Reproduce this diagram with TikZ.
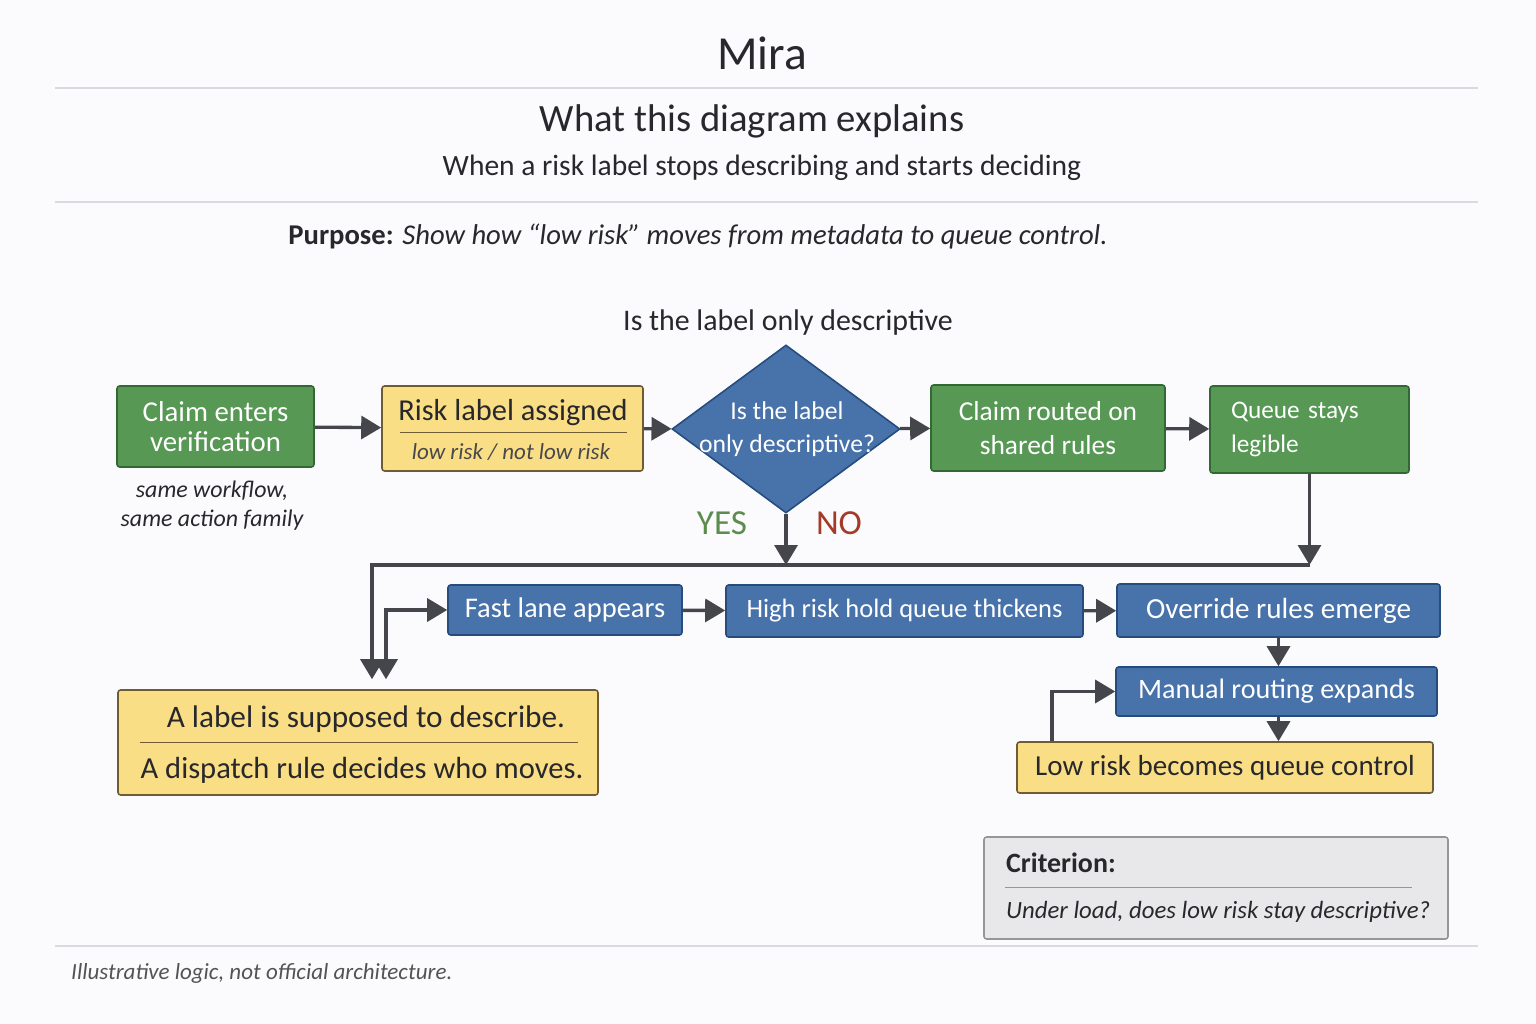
\documentclass[tikz,border=0pt]{standalone}
\usepackage{fontspec}
\setmainfont{Carlito}
\usetikzlibrary{positioning,calc,arrows.meta,shapes.geometric}

\definecolor{bgcol}{RGB}{251,251,253}
\definecolor{inkcol}{RGB}{40,40,44}
\definecolor{rulecol}{RGB}{218,218,222}
\definecolor{arrcol}{RGB}{68,70,76}
\definecolor{grnfill}{RGB}{86,152,84}
\definecolor{grnline}{RGB}{50,104,52}
\definecolor{bluefill}{RGB}{72,114,170}
\definecolor{blueline}{RGB}{38,76,126}
\definecolor{yelfill}{RGB}{249,222,134}
\definecolor{yelline}{RGB}{112,92,50}
\definecolor{grayfill}{RGB}{232,232,234}
\definecolor{grayline}{RGB}{150,150,152}
\definecolor{yescol}{RGB}{92,140,78}
\definecolor{nocol}{RGB}{164,58,40}

\newcommand\titlefont{\fontsize{27}{32}\selectfont}
\newcommand\hdfont{\fontsize{22}{26}\selectfont}
\newcommand\subtfont{\fontsize{16.8}{20}\selectfont}
\newcommand\boxfont{\fontsize{16.2}{19}\selectfont}
\newcommand\notefont{\fontsize{13.6}{16.5}\selectfont}
\newcommand\tinyfont{\fontsize{13.1}{15}\selectfont}

\begin{document}
\begin{tikzpicture}[x=0.02cm,y=-0.02cm,
  every node/.style={text=inkcol},
  box/.style 2 args={minimum width=#1*0.02cm,minimum height=#2*0.02cm,inner sep=0pt,
    rounded corners=1.5pt,line width=0.9pt},
  gbox/.style={draw=grnline,fill=grnfill,text=white,align=center,font=\boxfont},
  bbox/.style={draw=blueline,fill=bluefill,text=white,align=center,font=\boxfont},
  ybox/.style={draw=yelline,fill=yelfill,align=center,font=\boxfont},
  rule/.style={draw=rulecol,line width=0.8pt},
  arr/.style={draw=arrcol,line width=1.9pt,-{Triangle[length=0.4cm,width=0.46cm]}}
  ]
  \fill[bgcol] (0,0) rectangle (1536,1024);

  \node (title) at (762,53) {\titlefont Mira};
  \draw[rule] (55,88) -- (1478,88);
  \node (head) at (752,121) {\hdfont What this diagram explains};
  \node (sub) at (762,168) {\subtfont When a risk label stops describing and starts deciding};
  \draw[rule] (55,202) -- (1478,202);
  \node (purp) at (698,237) {\fontsize{16.3}{19}\selectfont\textbf{Purpose:} \textit{Show how “low risk” moves from metadata to queue control.}};
  \node (ques) at (788,323) {\fontsize{17}{20}\selectfont Is the label only descriptive};

  \node[box={197}{81},gbox,font=\fontsize{16.4}{17}\selectfont] (claim) at (215.5,426.5) {Claim enters\\verification};
  \node[align=center,font=\notefont\itshape] (same) at (212,506) {same workflow,\\same action family};

  \node[box={261}{85},ybox] (risk) at (512.5,428.5) {};
  \node[font=\fontsize{17.3}{20}\selectfont] (riskt) at (513,413) {Risk label assigned};
  \draw[yelline,line width=0.5pt] (400,432) -- (627,432);
  \node[font=\tinyfont\itshape,text=inkcol!85] (risks) at (511,452) {low risk / not low risk};

  \node[diamond,aspect=1.36,minimum width=228*0.02cm,minimum height=168*0.02cm,inner sep=0pt,
    draw=blueline,fill=bluefill,line width=0.9pt] (dec) at (786,429) {};
  \node[align=center,text=white,font=\fontsize{14.6}{19}\selectfont] (dect) at (787,429) {Is the label\\only descriptive?};

  \node[box={234}{86},gbox,font=\fontsize{15.6}{19}\selectfont] (routed) at (1048,428) {Claim routed on\\shared rules};
  \node[box={199}{87},gbox,align=left,text width=157*0.02cm,font=\fontsize{14.4}{19}\selectfont] (queue) at (1309.5,429.5) {Queue stays\\legible};

  \node[text=yescol,font=\fontsize{20}{24}\selectfont] (yes) at (722,523) {YES};
  \node[text=nocol,font=\fontsize{20}{24}\selectfont] (no) at (839,523) {NO};

  \node[box={234}{50},bbox] (fast) at (565,610) {Fast lane appears};
  \node[box={357}{52},bbox,font=\fontsize{15.1}{18}\selectfont] (high) at (904.5,611) {High risk hold queue thickens};
  \node[box={323}{53},bbox,font=\fontsize{16.6}{19}\selectfont] (over) at (1278.5,610.5) {Override rules emerge};
  \node[box={321}{49},bbox,font=\fontsize{16}{19}\selectfont] (manual) at (1276.5,691.5) {Manual routing expands};
  \node[box={416}{51},ybox,font=\fontsize{16.5}{19}\selectfont] (low) at (1225,767.5) {Low risk becomes queue control};

  \node[box={480}{105},ybox] (lbl) at (358,742.5) {};
  \node[font=\fontsize{17.8}{20}\selectfont] (lblt) at (366,719) {A label is supposed to describe.};
  \draw[yelline,line width=0.5pt] (140,742) -- (578,742);
  \node[font=\fontsize{17.4}{20}\selectfont] (lbls) at (362,770) {A dispatch rule decides who moves.};

  \node[box={464}{102},draw=grayline,fill=grayfill] (crit) at (1216,888) {};
  \node[anchor=west,font=\fontsize{15.9}{19}\selectfont\bfseries] (critt) at (1000,863) {Criterion:};
  \draw[grayline,line width=0.5pt] (1005,887) -- (1412,887);
  \node[anchor=west,font=\fontsize{14.1}{17}\selectfont\itshape] (crits) at (1000,912) {Under load, does low risk stay descriptive?};

  \draw[rule] (55,946) -- (1478,946);
  \node[anchor=west,font=\tinyfont\itshape,text=inkcol!80] (foot) at (65,973) {Illustrative logic, not official architecture.};

  \coordinate (busl) at (372,565);
  \coordinate (fl) at (386,612);
  \coordinate (lfb) at (1052,700);

  \draw[arr] (claim) -- (risk);
  \draw[arr] (risk) -- (dec);
  \draw[arr] (dec) -- (routed);
  \draw[arr] (routed) -- (queue);
  \draw[arr] (dec.south) -- (dec.south |- busl);
  \draw[arr] (queue.south) -- (queue.south |- busl);
  \draw[arr,shorten >=0.2cm] (queue.south |- busl) -- (busl) -- (busl |- lbl.north);
  \draw[arr,{Triangle[length=0.4cm,width=0.46cm]}-{Triangle[length=0.4cm,width=0.46cm]},shorten >=0.2cm] (fast.west) -| (fl |- lbl.north);
  \draw[arr] (fast) -- (high);
  \draw[arr] (high) -- (over);
  \draw[arr] (over.south) -- (over.south |- manual.north);
  \draw[arr] (manual.south -| over.south) -- (over.south |- low.north);
  \draw[arr] (lfb |- low.north) |- (manual.west);
\end{tikzpicture}
\end{document}
